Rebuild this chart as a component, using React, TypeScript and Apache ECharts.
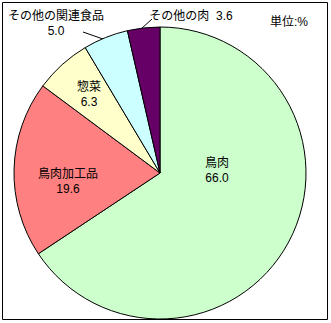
import React, { useEffect, useRef } from "react";
import * as echarts from "echarts";

const categories = ["鳥肉", "鳥肉加工品", "惣菜", "その他の関連食品", "その他の肉"];
const values = [66.0, 19.6, 6.3, 5.0, 3.6];
const colors = ["#CCFFCC", "#FF8080", "#FFFFCC", "#CCFFFF", "#660066"];
const unitLabel = "単位:%";

// label placement (style only)
const labelPos: { x: number; y: number; line?: number[][]; oneLine?: boolean }[] = [
  { x: 217, y: 170 },
  { x: 68, y: 181 },
  { x: 89, y: 94 },
  { x: 56, y: 23, line: [[103, 39], [83, 32]] },
  { x: 191, y: 16, line: [[141, 29], [152, 19]], oneLine: true },
];

export default function App() {
  const ref = useRef<HTMLDivElement>(null);
  useEffect(() => {
    const chart = echarts.init(ref.current!, undefined, { renderer: "svg" });
    const font = "'Liberation Sans', 'Noto Sans CJK JP', sans-serif";
    chart.setOption({
      animation: false,
      graphic: [
        {
          type: "rect",
          shape: { x: 2.5, y: 2.5, width: 325, height: 317 },
          style: { fill: "none", stroke: "#000", lineWidth: 1 },
          z: 0,
        },
        {
          type: "text",
          x: 270,
          y: 22,
          style: { text: unitLabel, fontSize: 12, fontFamily: font, fill: "#000", verticalAlign: "middle" },
        },
      ],
      series: [
        {
          type: "pie",
          center: [160, 173],
          radius: 146,
          startAngle: 90,
          clockwise: true,
          avoidLabelOverlap: false,
          itemStyle: { borderColor: "#000", borderWidth: 1 },
          emphasis: { disabled: true },
          label: {
            show: true,
            position: "outside",
            fontSize: 12,
            lineHeight: 15,
            fontFamily: font,
            color: "#000",
            align: "center",
            formatter: (p: any) =>
              labelPos[p.dataIndex].oneLine
                ? `${p.name}  ${p.value.toFixed(1)}`
                : `${p.name}\n${p.value.toFixed(1)}`,
          },
          labelLine: { show: true, lineStyle: { color: "#000", width: 1 } },
          labelLayout: (params: any) => {
            const lp = labelPos[params.dataIndex];
            const res: any = { x: lp.x, y: lp.y, align: "center", verticalAlign: "middle" };
            if (lp.line) res.labelLinePoints = [lp.line[0], lp.line[1], lp.line[1]];
            return res;
          },
          data: categories.map((name, i) => ({
            name,
            value: values[i],
            itemStyle: { color: colors[i] },
            labelLine: { show: !!labelPos[i].line },
          })),
        },
      ],
    });
    return () => chart.dispose();
  }, []);
  return (
    <div
      ref={ref}
      style={{ position: "absolute", left: 0, top: 0, width: 331, height: 323, background: "#fff" }}
    />
  );
}
